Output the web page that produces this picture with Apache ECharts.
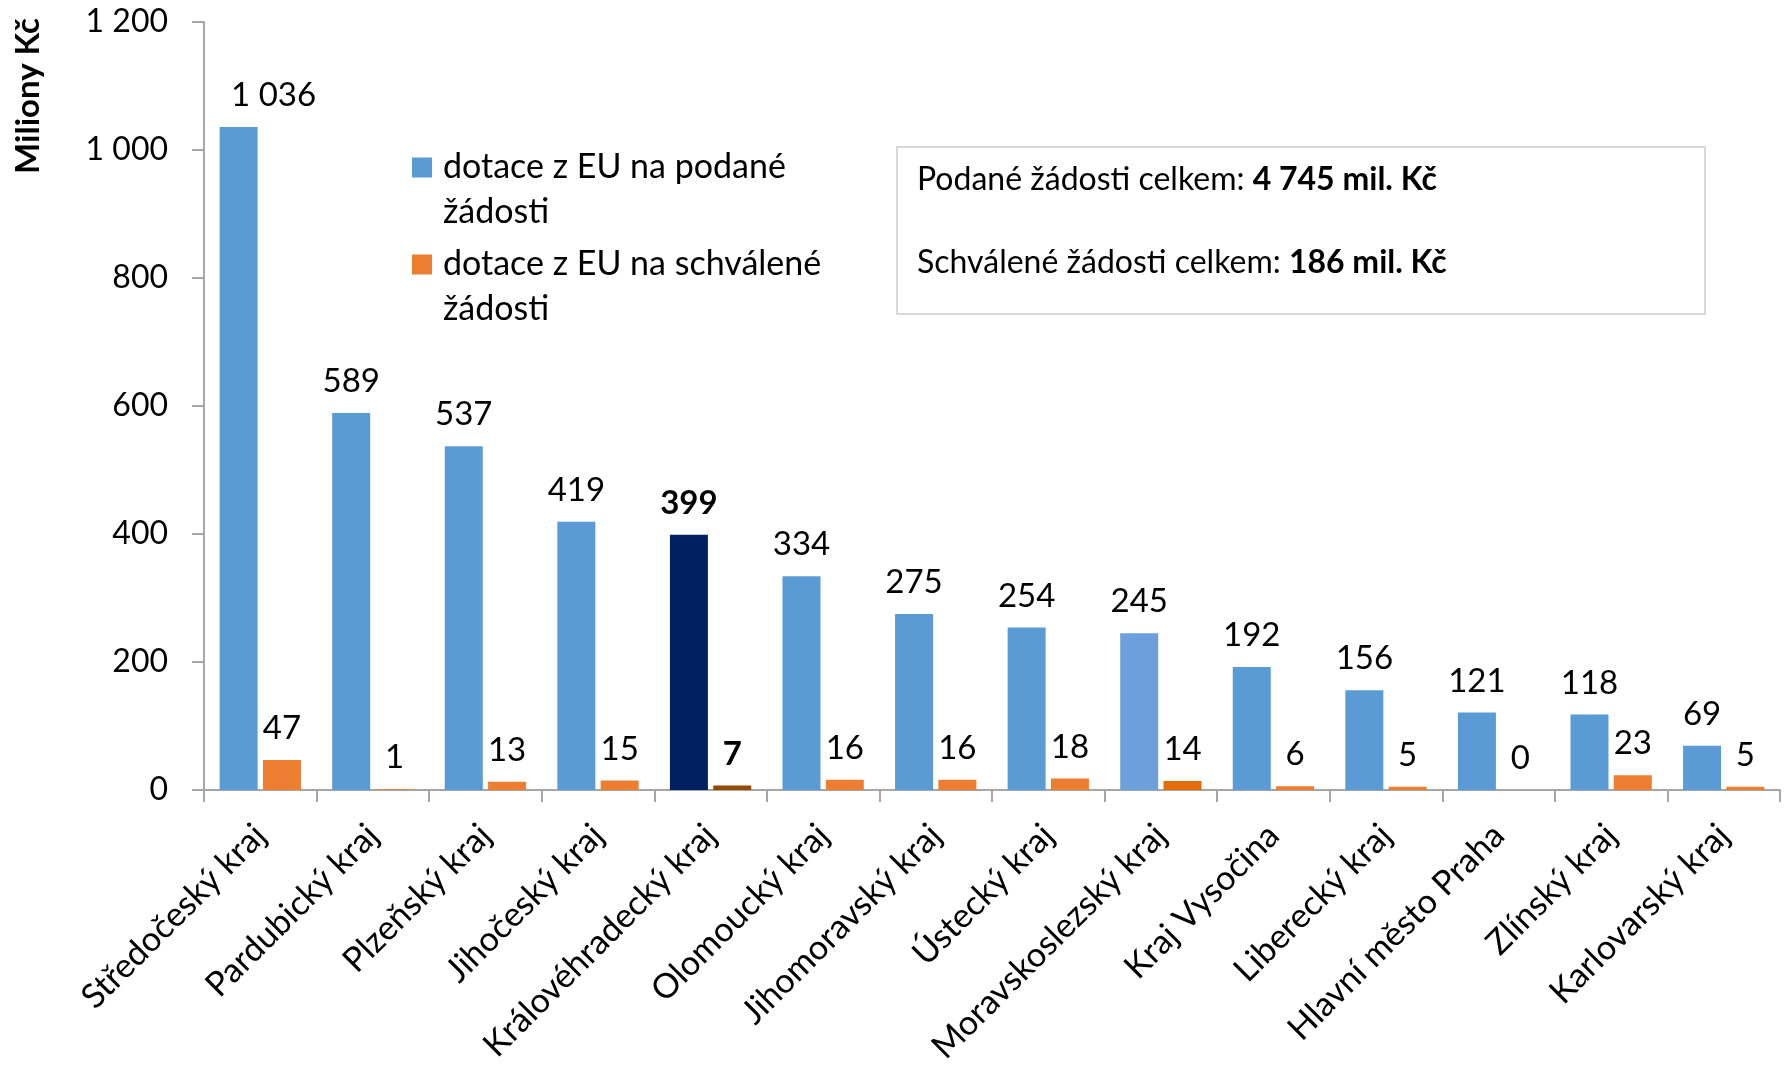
<!DOCTYPE html>
<html>
<head>
<meta charset="utf-8">
<title>Dotace z EU podle krajů</title>
<script src="https://cdn.jsdelivr.net/npm/echarts@6/dist/echarts.min.js"></script>
<style>
  html, body { margin: 0; padding: 0; background: #fff; }
  #chart { width: 1791px; height: 1067px; }
</style>
</head>
<body>
<div id="chart"></div>
<script>
// kraje
const regions = ['Středočeský kraj', 'Pardubický kraj', 'Plzeňský kraj', 'Jihočeský kraj',
  'Královéhradecký kraj', 'Olomoucký kraj', 'Jihomoravský kraj', 'Ústecký kraj',
  'Moravskoslezský kraj', 'Kraj Vysočina', 'Liberecký kraj', 'Hlavní město Praha',
  'Zlínský kraj', 'Karlovarský kraj']
// mil. Kč
const submitted = [1036, 589, 537, 419, 399, 334, 275, 254, 245, 192, 156, 121, 118, 69]
const approved = [47, 1, 13, 15, 7, 16, 16, 18, 14, 6, 5, 0, 23, 5]
const seriesNames = ['dotace z EU na podané žádosti', 'dotace z EU na schválené žádosti']
const totalSubmitted = '4 745 mil. Kč'
const totalApproved = '186 mil. Kč'

const blue = '#5b9bd5'
const orange = '#ed7d31'
const font = 'Lato'
const focusIdx = 4   // Královéhradecký - zvýrazněný
const softIdx = 8    // Moravskoslezský - jiný odstín

function fmt(v) {
  return String(v).replace(/\B(?=(\d{3})+(?!\d))/g, ' ')
}

function buildData(values, focusColor, softColor) {
  return values.map((v, i) => {
    if (i === focusIdx) {
      return { value: v, itemStyle: { color: focusColor }, label: { fontWeight: 'bold' } }
    }
    if (i === softIdx) {
      return { value: v, itemStyle: { color: softColor } }
    }
    return v
  })
}

const labelCfg = {
  show: true,
  position: 'top',
  distance: 15,
  fontFamily: font,
  fontSize: 33,
  color: '#000',
  formatter: p => fmt(p.value)
}

// prazdny prvni radek -> ikona zarovnana s prvnim radkem textu
function legendFor(name, top) {
  return {
    data: [name],
    left: 412,
    top: top,
    padding: 0,
    itemWidth: 20,
    itemHeight: 20,
    icon: 'rect',
    selectedMode: false,
    formatter: n => '\n' + n.replace(' žádosti', '\nžádosti'),
    textStyle: {
      fontFamily: font,
      fontSize: 34,
      lineHeight: 45,
      color: '#000',
      padding: [0, 0, 0, 6]
    }
  }
}

let blueData = buildData(submitted, '#002060', '#6c9fdc')
// popisek nejvyssiho sloupce je v originale posunuty doprava
blueData[0] = { value: submitted[0], label: { offset: [35, 0] } }

let myChart = echarts.init(document.getElementById('chart'))
myChart.setOption({
  animation: false,
  textStyle: { fontFamily: font },
  legend: [legendFor(seriesNames[0], 100), legendFor(seriesNames[1], 197)],
  grid: {
    left: 204,
    right: 11,
    top: 22,
    bottom: 276
  },
  xAxis: {
    type: 'category',
    data: regions,
    axisLine: { lineStyle: { color: '#a6a6a6', width: 2 } },
    axisTick: { show: true, length: 12, lineStyle: { color: '#a6a6a6', width: 2 } },
    axisLabel: {
      interval: 0,
      rotate: 45,
      margin: 40,
      fontFamily: font,
      fontSize: 34,
      color: '#000'
    }
  },
  yAxis: {
    type: 'value',
    min: 0,
    max: 1200,
    interval: 200,
    splitLine: { show: false },
    axisLine: { show: true, lineStyle: { color: '#a6a6a6', width: 2 } },
    axisTick: { show: true, length: 12, lineStyle: { color: '#a6a6a6', width: 2 } },
    axisLabel: {
      margin: 36,
      fontFamily: font,
      fontSize: 32,
      color: '#000',
      formatter: v => fmt(v)
    }
  },
  series: [
    {
      name: seriesNames[0],
      type: 'bar',
      barWidth: 38,
      barGap: '14%',
      itemStyle: { color: blue },
      label: labelCfg,
      data: blueData
    },
    {
      name: seriesNames[1],
      type: 'bar',
      barWidth: 38,
      barGap: '14%',
      itemStyle: { color: orange },
      label: labelCfg,
      data: buildData(approved, '#974806', '#e36c09')
    }
  ],
  graphic: [
    {
      type: 'text',
      x: 28,
      y: 96,
      rotation: Math.PI / 2,
      style: {
        text: 'Miliony Kč',
        fontFamily: font,
        fontSize: 33,
        fontWeight: 'bold',
        fill: '#000',
        align: 'center',
        verticalAlign: 'middle'
      }
    },
    {
      type: 'rect',
      shape: { x: 897, y: 147, width: 808, height: 167 },
      style: { fill: '#fff', stroke: '#d9d9d9', lineWidth: 2 }
    },
    {
      type: 'text',
      x: 917,
      y: 180,
      style: {
        text: '{n|Podané žádosti celkem: }{b|' + totalSubmitted + '}',
        verticalAlign: 'middle',
        rich: {
          n: { fontFamily: font, fontSize: 32, fill: '#000' },
          b: { fontFamily: font, fontSize: 32, fontWeight: 'bold', fill: '#000' }
        }
      }
    },
    {
      type: 'text',
      x: 917,
      y: 263,
      style: {
        text: '{n|Schválené žádosti celkem: }{b|' + totalApproved + '}',
        verticalAlign: 'middle',
        rich: {
          n: { fontFamily: font, fontSize: 32, fill: '#000' },
          b: { fontFamily: font, fontSize: 32, fontWeight: 'bold', fill: '#000' }
        }
      }
    }
  ]
})
</script>
</body>
</html>
